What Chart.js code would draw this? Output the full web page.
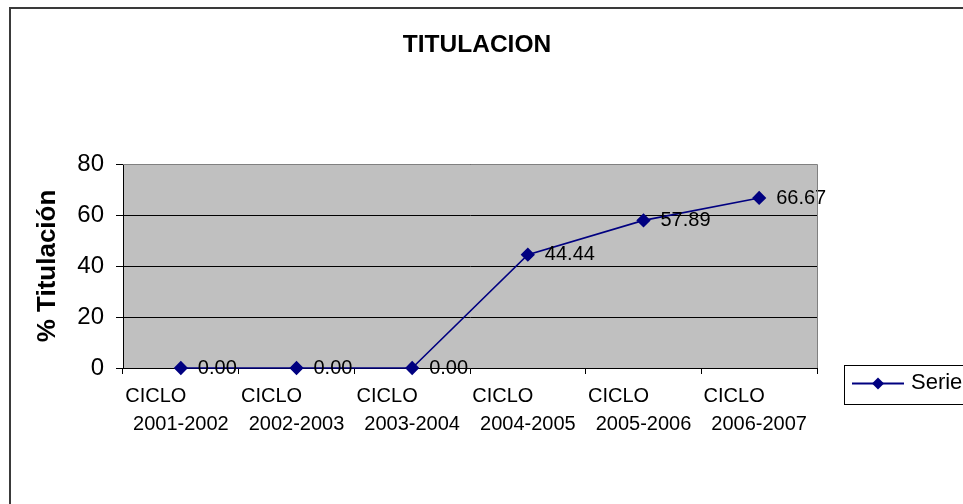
<!DOCTYPE html>
<html>
<head>
<meta charset="utf-8">
<script src="https://cdn.jsdelivr.net/npm/chart.js@4/dist/chart.umd.min.js"></script>
<style>
  html, body { margin: 0; padding: 0; background: #ffffff; }
  #wrap { width: 963px; height: 504px; }
</style>
</head>
<body>
<div id="wrap"><canvas id="c" width="963" height="504"></canvas></div>
<script>
// ---- data ----
const cyclePrefix = "CICLO";
const categories = ["2001-2002", "2002-2003", "2003-2004", "2004-2005", "2005-2006", "2006-2007"];
const seriesName = "Serie1";
const titulacion = [0.00, 0.00, 0.00, 44.44, 57.89, 66.67];
const yTicks = [0, 20, 40, 60, 80];
const chartTitle = "TITULACION";
const yAxisTitle = "% Titulación";

const FONT = "Arial, 'Liberation Sans', sans-serif";
const NAVY = "#000080";

const plotBg = {
  id: 'plotBg',
  beforeDraw(chart) {
    const {ctx, chartArea: a} = chart;
    ctx.save();
    ctx.fillStyle = '#ffffff';
    ctx.fillRect(0, 0, chart.width, chart.height);
    ctx.fillStyle = '#c0c0c0';
    ctx.fillRect(a.left, a.top, a.right - a.left, a.bottom - a.top);
    // outer chart frame
    ctx.strokeStyle = '#3a3a3a';
    ctx.lineWidth = 2;
    ctx.beginPath();
    ctx.moveTo(10, chart.height + 5);
    ctx.lineTo(10, 8);
    ctx.lineTo(chart.width + 5, 8);
    ctx.stroke();
    ctx.restore();
  },
  afterDraw(chart) {
    const {ctx, chartArea: a} = chart;
    ctx.save();
    // plot area grey border (top, right)
    ctx.strokeStyle = '#808080';
    ctx.lineWidth = 1;
    ctx.beginPath();
    ctx.moveTo(a.left, a.top + 0.5);
    ctx.lineTo(a.right + 0.5, a.top + 0.5);
    ctx.lineTo(a.right + 0.5, a.bottom);
    ctx.stroke();
    ctx.restore();
  }
};

const dataLabels = {
  id: 'dataLabels',
  afterDatasetsDraw(chart) {
    const {ctx} = chart;
    const meta = chart.getDatasetMeta(0);
    ctx.save();
    ctx.font = "20px " + FONT;
    ctx.fillStyle = '#000000';
    ctx.textAlign = 'left';
    ctx.textBaseline = 'middle';
    meta.data.forEach((pt, i) => {
      ctx.fillText(titulacion[i].toFixed(2), pt.x + 17, pt.y);
    });
    ctx.restore();
  }
};

const legendBox = {
  id: 'legendBox',
  afterDraw(chart) {
    const {ctx} = chart;
    const ds = chart.data.datasets[0];
    const bx = 844.5, by = 365.5, bw = 140, bh = 39;
    ctx.save();
    ctx.fillStyle = '#ffffff';
    ctx.fillRect(bx, by, bw, bh);
    ctx.strokeStyle = '#000000';
    ctx.lineWidth = 1;
    ctx.strokeRect(bx, by, bw, bh);
    const cy = 383.5;
    ctx.strokeStyle = ds.borderColor;
    ctx.lineWidth = 2;
    ctx.beginPath();
    ctx.moveTo(852, cy);
    ctx.lineTo(904, cy);
    ctx.stroke();
    ctx.fillStyle = ds.pointBackgroundColor;
    ctx.beginPath();
    ctx.moveTo(878, cy - 6);
    ctx.lineTo(884, cy);
    ctx.lineTo(878, cy + 6);
    ctx.lineTo(872, cy);
    ctx.closePath();
    ctx.fill();
    // text wraps inside the narrow legend box and is clipped
    ctx.beginPath();
    ctx.rect(bx + 1, by + 1, bw - 2, bh - 2);
    ctx.clip();
    ctx.fillStyle = '#000000';
    ctx.font = "22px " + FONT;
    ctx.textAlign = 'left';
    ctx.textBaseline = 'middle';
    const lbl = ds.label;
    ctx.fillText(lbl.slice(0, 5), 911, cy - 1);
    ctx.textAlign = 'center';
    ctx.fillText(lbl.slice(5), 917, cy + 29);
    ctx.restore();
  }
};

new Chart(document.getElementById('c'), {
  type: 'line',
  data: {
    labels: categories,
    datasets: [{
      label: seriesName,
      data: titulacion,
      borderColor: NAVY,
      backgroundColor: NAVY,
      pointBackgroundColor: NAVY,
      pointBorderColor: NAVY,
      borderWidth: 1.6,
      pointStyle: 'rectRot',
      pointRadius: 6,
      pointHoverRadius: 6,
      tension: 0,
      fill: false,
      clip: false,
      yAxisID: 'y'
    }]
  },
  options: {
    responsive: false,
    animation: false,
    events: [],
    layout: { padding: { left: 0, right: 9, top: 0, bottom: 0 } },
    plugins: {
      legend: { display: false },
      tooltip: { enabled: false },
      title: {
        display: true,
        text: chartTitle,
        color: '#000000',
        font: { family: FONT, size: 24.5, weight: 'bold', lineHeight: 1.2 },
        padding: { top: 30.3, bottom: 104.3 }
      }
    },
    scales: {
      x: {
        type: 'category',
        offset: true,
        grid: {
          offset: true,
          drawOnChartArea: false,
          drawTicks: true,
          tickLength: 6,
          color: '#000000'
        },
        border: { display: true, color: '#000000', width: 1 },
        ticks: {
          color: '#000000',
          font: { family: FONT, size: 20, lineHeight: 1.4 },
          padding: 8,
          maxRotation: 0,
          autoSkip: false,
          callback: (v, i) => [cyclePrefix + "         ", categories[i]]
        },
        afterFit: (s) => { s.height = 136; }
      },
      y: {
        type: 'linear',
        position: 'left',
        min: 0,
        max: 80,
        afterBuildTicks: (s) => { s.ticks = yTicks.map(v => ({ value: v })); },
        grid: {
          color: '#000000',
          lineWidth: 1,
          drawTicks: true,
          tickLength: 7
        },
        border: { display: true, color: '#000000', width: 1 },
        ticks: {
          color: '#000000',
          font: { family: FONT, size: 24 },
          padding: 12
        },
        title: {
          display: true,
          text: yAxisTitle,
          color: '#000000',
          font: { family: FONT, size: 26, weight: 'bold', lineHeight: 1.2 },
          padding: { top: 32, bottom: 0 }
        },
        afterFit: (s) => { s.width = 123; }
      },
      yR: {
        type: 'linear',
        position: 'right',
        display: true,
        grid: { display: false, drawTicks: false },
        border: { display: false },
        ticks: { display: false },
        afterFit: (s) => { s.width = 137; }
      }
    }
  },
  plugins: [plotBg, dataLabels, legendBox]
});
</script>
</body>
</html>
